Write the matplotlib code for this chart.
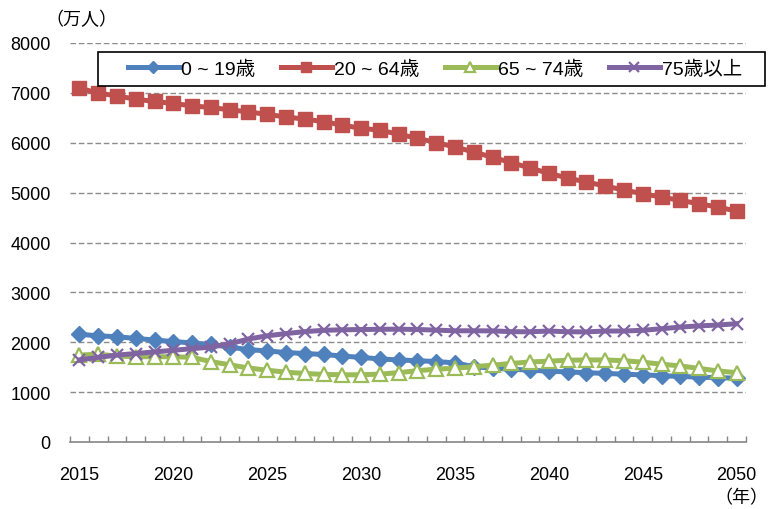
import matplotlib
matplotlib.use("Agg")
import matplotlib.pyplot as plt
from matplotlib.patches import Rectangle
from matplotlib.ticker import MultipleLocator

plt.rcParams['font.family'] = ['Liberation Sans', 'Noto Sans CJK JP', 'DejaVu Sans']

years = list(range(2015, 2051))

# population by age group (10,000 persons)
age_0_19 = [2160, 2129, 2110, 2077, 2045, 2013, 1987, 1955, 1903, 1852,
            1826, 1794, 1774, 1755, 1723, 1697, 1665, 1645, 1630, 1613,
            1587, 1510, 1480, 1460, 1440, 1420, 1405, 1390, 1375, 1360,
            1345, 1330, 1315, 1300, 1290, 1280]
age_20_64 = [7096, 6995, 6940, 6874, 6828, 6787, 6740, 6707, 6660, 6620,
             6567, 6519, 6472, 6426, 6352, 6291, 6251, 6171, 6090, 6003,
             5916, 5815, 5709, 5601, 5494, 5387, 5293, 5213, 5132, 5052,
             4978, 4911, 4844, 4777, 4710, 4630]
age_65_74 = [1742, 1761, 1723, 1710, 1710, 1710, 1697, 1613, 1548, 1484,
             1439, 1400, 1374, 1355, 1348, 1348, 1361, 1390, 1430, 1460,
             1480, 1510, 1540, 1575, 1605, 1620, 1640, 1645, 1645, 1630,
             1600, 1560, 1525, 1475, 1425, 1390]
age_75_up = [1645, 1697, 1742, 1774, 1806, 1839, 1871, 1903, 1968, 2065,
             2129, 2174, 2213, 2239, 2250, 2255, 2260, 2262, 2256, 2243,
             2230, 2230, 2228, 2212, 2210, 2225, 2210, 2208, 2225, 2225,
             2240, 2270, 2305, 2328, 2345, 2372]

labels = ["0 ~ 19歳", "20 ~ 64歳", "65 ~ 74歳", "75歳以上"]
colors = ["#4F81BD", "#C0504D", "#9BBB59", "#8064A2"]

fig = plt.figure(figsize=(7.68, 5.10), dpi=100)
ax = fig.add_axes([70 / 768, 67 / 510, 676 / 768, 399 / 510])

lw = 3.6
ax.plot(years, age_0_19, color=colors[0], lw=lw, marker="D", ms=8.5,
        mfc=colors[0], mec=colors[0], label=labels[0], zorder=3)
ax.plot(years, age_20_64, color=colors[1], lw=lw, marker="s", ms=9.5,
        mfc=colors[1], mec=colors[1], label=labels[1], zorder=3)
ax.plot(years, age_65_74, color=colors[2], lw=lw, marker="^", ms=9.5,
        mfc="white", mec=colors[2], mew=1.6, label=labels[2], zorder=3)
ax.plot(years, age_75_up, color=colors[3], lw=lw, marker="x", ms=9,
        mec=colors[3], mew=1.6, label=labels[3], zorder=3)

ax.set_xlim(2014.5, 2050.5)
ax.set_ylim(0, 8000)

ax.set_xticks(range(2015, 2051, 5))
ax.xaxis.set_minor_locator(MultipleLocator(1, offset=0.5))
ax.tick_params(axis="x", which="major", length=0, pad=17, labelsize=13)
ax.tick_params(axis="x", which="minor", direction="in", length=4.5,
               width=1, color="#868686")

ax.set_yticks(range(0, 8001, 1000))
ax.tick_params(axis="y", length=0, pad=14, labelsize=13)
for y in range(1000, 8001, 1000):
    ax.axhline(y, color="#8c8c8c", lw=1, ls=(0, (4, 2)), zorder=1)

for side in ["left", "right", "top"]:
    ax.spines[side].set_visible(False)
ax.spines["bottom"].set_color("#868686")
ax.spines["bottom"].set_linewidth(1.2)

# legend: a wide box above the plot with the entries centred inside
box = Rectangle((98 / 768, 1 - 87 / 510), 667 / 768, 34 / 510,
                transform=fig.transFigure, facecolor="white",
                edgecolor="black", lw=1.2, zorder=5)
fig.add_artist(box)
leg = fig.legend(loc="center", bbox_to_anchor=(435 / 768, 1 - 70 / 510),
                 ncol=4, fontsize=14, frameon=False, handlelength=2.6,
                 handletextpad=0.1, columnspacing=1.35, markerscale=0.75)
leg.set_zorder(6)

fig.text(45 / 768, 1 - 20 / 510, "（万人）", fontsize=13, ha="left", va="center")
fig.text(768 / 768, 1 - 499 / 510, "（年）", fontsize=13, ha="right", va="center")

fig.savefig("out.png", dpi=100)
